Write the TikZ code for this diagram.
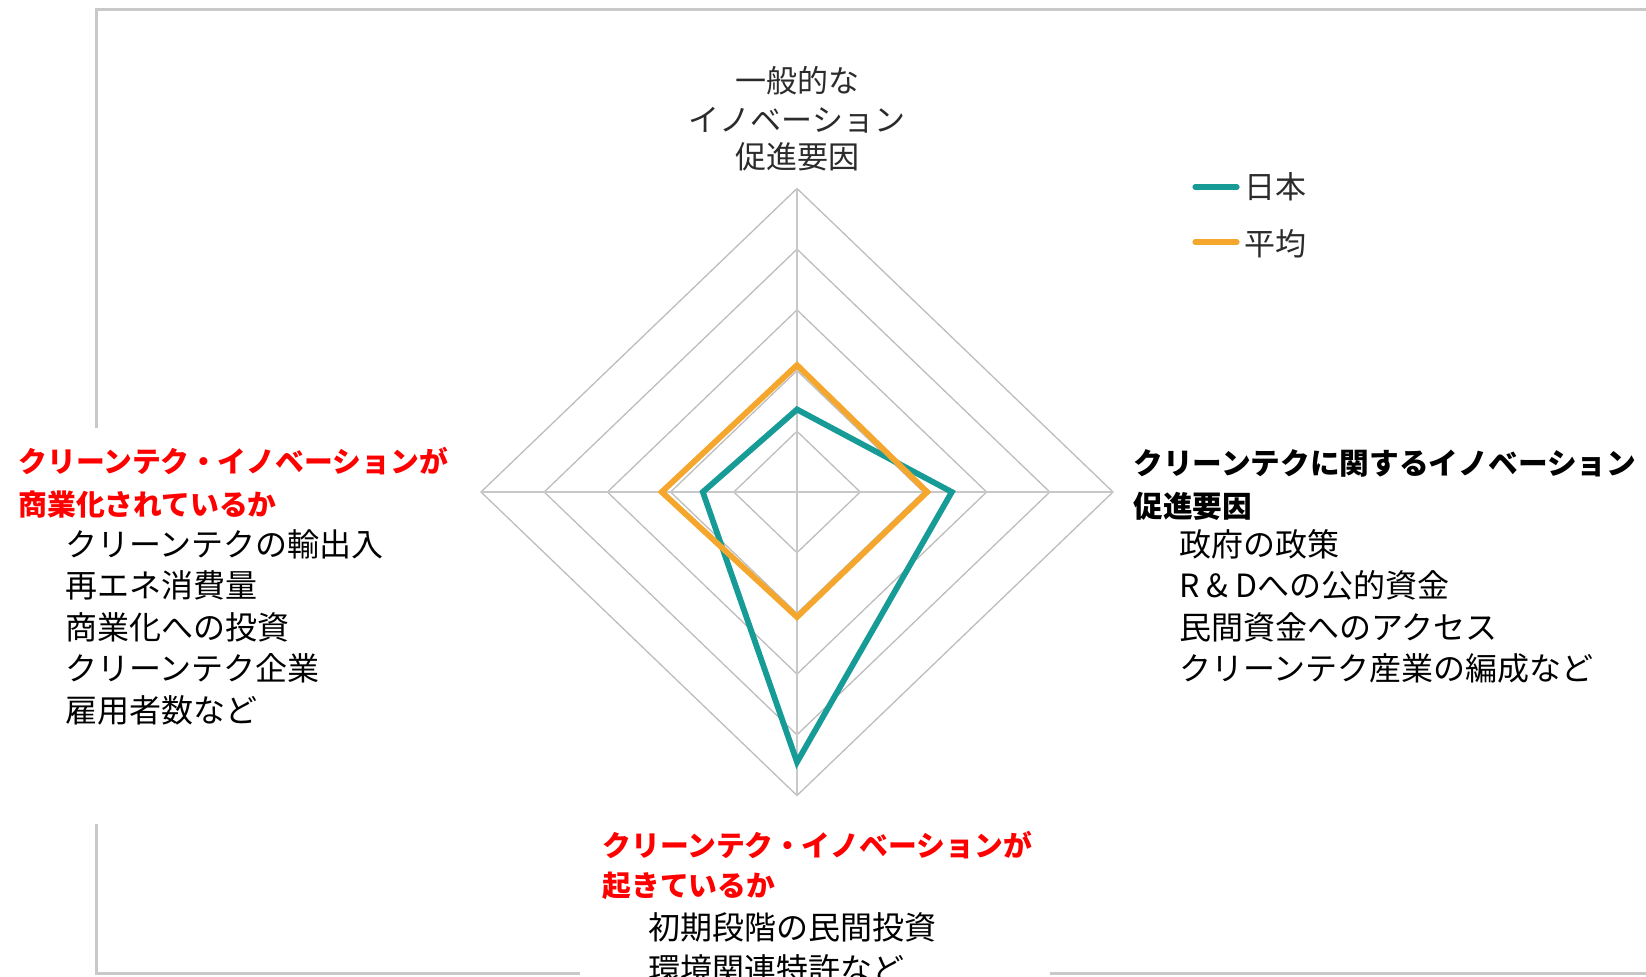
\documentclass[tikz,border=0pt]{standalone}
\usepackage{fontspec}
\usepackage{xcolor}
\usepackage{tikz}
\usetikzlibrary{positioning}
\newfontfamily\jpfont{Noto Sans CJK JP}
\definecolor{japan}{HTML}{179B96}
\definecolor{average}{HTML}{F5A62D}
\definecolor{gridgray}{HTML}{BDBDBD}
\definecolor{axisgray}{HTML}{C8C8C8}
\definecolor{framegray}{HTML}{C9C9C9}
\definecolor{labelgray}{HTML}{2B2B2B}
\definecolor{headred}{HTML}{FF0000}
\tikzset{
	frameline/.style={draw=framegray, line width=1.5pt},
	ring/.style={draw=gridgray, line width=0.65pt},
	spoke/.style={draw=axisgray, line width=1.3pt},
	series/.style={line width=2.9pt},
	legendline/.style={line width=2.6pt, line cap=round},
	redhead/.style={anchor=west, inner sep=0pt, text=headred, font=\jpfont\bfseries\fontsize{14.4}{16}\selectfont},
	blackhead/.style={anchor=west, inner sep=0pt, text=black, font=\jpfont\bfseries\fontsize{14.85}{16}\selectfont},
	item/.style={anchor=west, inner sep=0pt, font=\jpfont\fontsize{16}{18}\selectfont},
	axislabel/.style={inner sep=0pt, text=labelgray, font=\jpfont\fontsize{15.5}{18}\selectfont},
	legendtext/.style={anchor=west, inner sep=0pt, text=labelgray, font=\jpfont\fontsize{15.5}{18}\selectfont}
}
\begin{document}
\begin{tikzpicture}[x=0.5pt,y=-0.5pt]
	\useasboundingbox (0,0) rectangle (1646,977);
	% frame of the chart area
	\draw[frameline] (96,428) -- (96,10) -- (1646,10);
	\draw[frameline] (96,824) -- (96,974) -- (580,974);
	\draw[frameline] (1050,974) -- (1646,974);
	\coordinate (centre) at (797,492);
	\begin{scope}[shift={(centre)}, x=31.6pt, y=30.35pt]
		\foreach \r in {1,...,5}
			\draw[ring] (0,\r) -- (\r,0) -- (0,-\r) -- (-\r,0) -- cycle;
		\draw[spoke] (0,5) -- (0,-5);
		\draw[spoke] (-5,0) -- (5,0);
		\draw[series, japan] (0,1.36) -- (2.45,0) -- (0,-4.45) -- (-1.49,0) -- cycle;
		\draw[series, average] (0,2.09) -- (2.06,0) -- (0,-2.06) -- (-2.14,0) -- cycle;
	\end{scope}
	% axis label at the top
	\node[axislabel] (top1) at (797,81) {一般的な};
	\node[axislabel] (top2) at (797,120) {イノベーション};
	\node[axislabel] (top3) at (797,157) {促進要因};
	% legend
	\draw[legendline, japan] (1195,187) -- (1237,187);
	\node[legendtext] (leg1) at (1244,187) {日本};
	\draw[legendline, average] (1195,242) -- (1237,242);
	\node[legendtext] (leg2) at (1244,244) {平均};
	% left axis
	\node[redhead] (lhead1) at (18,461) {クリーンテク・イノベーションが};
	\node[redhead] (lhead2) at (18,505) {商業化されているか};
	\node[item] (litem1) at (65,544) {クリーンテクの輸出入};
	\node[item] (litem2) at (65,585) {再エネ消費量};
	\node[item] (litem3) at (65,627) {商業化への投資};
	\node[item] (litem4) at (65,668) {クリーンテク企業};
	\node[item] (litem5) at (65,710) {雇用者数など};
	% right axis
	\node[blackhead] (rhead1) at (1133,463) {クリーンテクに関するイノベーション};
	\node[blackhead] (rhead2) at (1133,506) {促進要因};
	\node[item] (ritem1) at (1179,544) {政府の政策};
	\node[item] (ritem2) at (1179,585) {R \& Dへの公的資金};
	\node[item] (ritem3) at (1179,627) {民間資金へのアクセス};
	\node[item] (ritem4) at (1179,668) {クリーンテク産業の編成など};
	% bottom axis
	\node[redhead] (bhead1) at (602,845) {クリーンテク・イノベーションが};
	\node[redhead] (bhead2) at (602,886) {起きているか};
	\node[item] (bitem1) at (648,927) {初期段階の民間投資};
	\node[item] (bitem2) at (648,969) {環境関連特許など};
\end{tikzpicture}
\end{document}
